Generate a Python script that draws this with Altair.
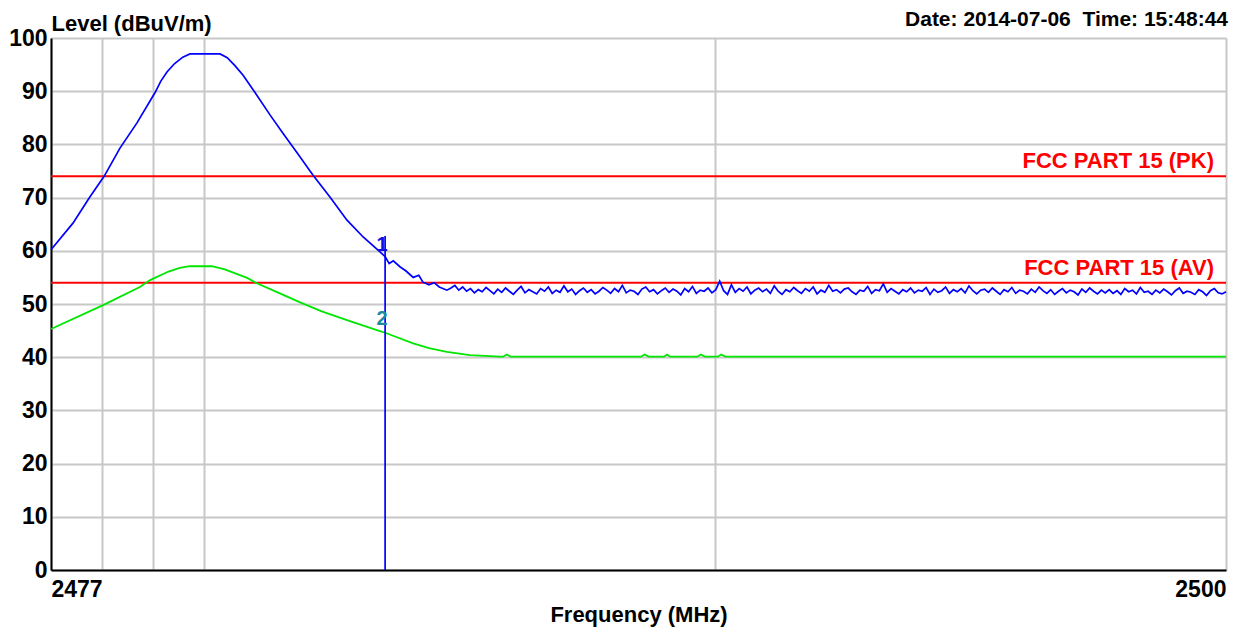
import altair as alt
import pandas as pd
import numpy as np

FONT = "Liberation Sans"

# ---- Peak trace (blue) ----
blue_freq = [2477.0, 2477.43, 2477.76, 2478.04, 2478.35, 2478.68, 2479.04, 2479.15, 2479.27,
             2479.42, 2479.58, 2479.72, 2480.31, 2480.45, 2480.60, 2480.76, 2480.99, 2481.29,
             2481.54, 2481.82, 2482.13, 2482.46, 2482.79, 2483.11, 2483.44, 2483.54, 2483.62,
             2483.70, 2483.83, 2483.95, 2484.09, 2484.20, 2484.28, 2484.40, 2484.50, 2484.60,
             2484.75]
blue_level = [60.2, 65.2, 70.1, 74.0, 79.3, 84.0, 89.8, 91.9, 93.6,
              95.2, 96.4, 97.0, 97.0, 96.3, 94.8, 93.0, 89.8, 85.5,
              82.1, 78.4, 74.2, 70.1, 65.8, 62.6, 59.8, 58.9, 57.6,
              58.1, 57.0, 56.2, 55.0, 55.4, 54.1, 53.6, 54.0, 53.2,
              52.6]

# noise floor of the peak trace, read from 2484.8 to 2500 MHz
noise_level = [
    53.0, 53.5, 52.6, 53.2, 52.4, 52.9, 52.1, 52.7, 52.3, 53.1,
    52.5, 51.9, 52.8, 52.2, 53.0, 52.4, 51.8, 52.6, 53.3, 52.1,
    52.7, 52.3, 51.9, 52.9, 52.4, 53.2, 52.0, 52.6, 52.2, 53.4,
    52.3, 52.8, 51.8, 52.5, 53.0, 52.2, 52.7, 51.9, 52.4, 53.1,
    52.6, 52.0, 52.9, 52.3, 53.5, 52.1, 52.6, 52.4, 51.8, 52.8,
    53.2, 52.3, 52.7, 51.9, 52.5, 53.0, 52.2, 52.8, 52.4, 51.7,
    52.9, 52.3, 53.3, 52.0, 52.6, 52.4, 53.0, 52.1, 52.7, 54.3,
    52.5, 51.8, 53.6, 52.2, 52.9, 52.4, 53.2, 51.9, 52.6, 53.0,
    52.3, 52.8, 52.0, 53.4, 52.4, 51.8, 52.7, 52.3, 53.1, 52.5,
    52.0, 52.9, 52.4, 53.2, 51.9, 52.6, 52.2, 53.5, 52.4, 52.7,
    52.1, 52.8, 53.0, 52.3, 51.8, 52.6, 52.4, 53.3, 52.0, 52.7,
    52.5, 53.8, 52.2, 52.9, 52.4, 51.9, 52.7, 52.3, 53.0, 52.1,
    52.6, 52.4, 53.1, 51.8, 52.8, 52.2, 52.5, 53.2, 52.0, 52.7,
    52.3, 52.9, 52.1, 53.4, 52.5, 51.9, 52.6, 52.8, 52.2, 53.0,
    52.4, 51.8, 52.7, 52.3, 53.1, 52.0, 52.6, 52.4, 51.9, 52.8,
    52.2, 53.2, 52.5, 52.0, 52.7, 51.8, 52.4, 52.9, 52.1, 52.6,
    52.3, 51.7, 52.8, 52.2, 53.0, 52.4, 51.9, 52.6, 52.1, 52.7,
    52.0, 52.5, 51.8, 52.9, 52.3, 52.6, 51.9, 53.1, 52.2, 52.4,
    51.8, 52.6, 52.1, 52.8, 52.3, 51.7, 52.5, 53.0, 52.0, 52.4,
    52.2, 51.8, 52.7, 52.3, 51.6, 52.5, 52.9, 52.1, 51.9, 52.3,
]
noise_freq = list(np.linspace(2484.83, 2500.0, len(noise_level)))

# ---- Average trace (green) ----
green_freq = [2477.0, 2478.02, 2478.74, 2478.94, 2479.30, 2479.52, 2479.72, 2480.15,
              2480.40, 2480.84, 2481.03, 2481.48, 2481.90, 2482.30, 2482.85, 2483.44,
              2483.54, 2484.09, 2484.40, 2484.75, 2485.20, 2485.79, 2485.85, 2485.92,
              2486.00, 2488.55, 2488.62, 2488.70, 2489.00, 2489.06, 2489.12, 2489.65,
              2489.72, 2489.80, 2490.05, 2490.12, 2490.20, 2500.0]
green_level = [45.3, 49.8, 53.2, 54.5, 56.1, 56.8, 57.1, 57.1,
               56.5, 54.9, 53.9, 52.0, 50.2, 48.6, 46.8, 44.9,
               44.6, 42.6, 41.7, 41.0, 40.4, 40.1, 40.1, 40.5,
               40.1, 40.1, 40.5, 40.1, 40.1, 40.5, 40.1, 40.1,
               40.5, 40.1, 40.1, 40.5, 40.1, 40.1]

# ---- Limits ----
limit_level = [74, 54]
limit_label = ["FCC PART 15 (PK)", "FCC PART 15 (AV)"]

# ---- Markers ----
marker_freq = 2483.54
marker_top = 62.8
marker_labels = ["1", "2"]
marker_levels = [61.0, 47.2]
marker_colors = ["#1010e0", "#1c8a9c"]

x_ticks = [2477, 2478, 2479, 2480, 2490, 2500]
y_ticks = list(range(0, 101, 10))

blue_df = pd.DataFrame({"freq": blue_freq + noise_freq, "level": blue_level + noise_level})
green_df = pd.DataFrame({"freq": green_freq, "level": green_level})
limit_df = pd.DataFrame({"level": limit_level, "label": limit_label, "freq": [2500, 2500]})
marker_df = pd.DataFrame({"freq": [marker_freq] * 2, "level": marker_levels,
                          "label": marker_labels, "color": marker_colors})
rule_df = pd.DataFrame({"freq": [marker_freq], "level": [0.0], "top": [marker_top]})

xscale = alt.Scale(domain=[2477, 2500], nice=False, zero=False)
yscale = alt.Scale(domain=[0, 100], nice=False, zero=True)

xaxis = alt.Axis(values=x_ticks, format="d", title="Frequency (MHz)",
                 labelExpr="(datum.value == 2477 || datum.value == 2500) ? datum.label : ''",
                 labelFlush=True, ticks=False, labelPadding=8, titlePadding=3,
                 labelFont=FONT, labelFontSize=23, labelFontWeight="bold", labelColor="black",
                 titleFont=FONT, titleFontSize=22, titleFontWeight="bold", titleColor="black",
                 grid=True, gridColor="#c8c8c8", gridWidth=2,
                 domainColor="black", domainWidth=2)
yaxis = alt.Axis(values=y_ticks, title="Level (dBuV/m)", ticks=False, labelPadding=4,
                 labelFont=FONT, labelFontSize=23, labelFontWeight="bold", labelColor="black",
                 titleFont=FONT, titleFontSize=22, titleFontWeight="bold", titleColor="black",
                 titleAngle=0, titleAlign="left", titleBaseline="alphabetic", titleX=0, titleY=-8,
                 grid=True, gridColor="#c8c8c8", gridWidth=2,
                 domainColor="black", domainWidth=2)

X = alt.X("freq:Q", scale=xscale, axis=xaxis)
Y = alt.Y("level:Q", scale=yscale, axis=yaxis)

blue = alt.Chart(blue_df).mark_line(color="#0000ff", strokeWidth=1.7).encode(x=X, y=Y)
green = alt.Chart(green_df).mark_line(color="#00e600", strokeWidth=1.8).encode(x=X, y=Y)
limits = alt.Chart(limit_df).mark_rule(color="#ff0000", strokeWidth=2).encode(y=Y)
limit_text = alt.Chart(limit_df).mark_text(
    align="right", baseline="alphabetic", dx=-12, dy=-8, color="#ff0000",
    font=FONT, fontSize=22, fontWeight="bold").encode(x=X, y=Y, text="label:N")
mrule = alt.Chart(rule_df).mark_rule(color="#0000ff", strokeWidth=1.7).encode(
    x=X, y=Y, y2="top:Q")
mtext = alt.Chart(marker_df).mark_text(
    align="center", baseline="middle", dx=-3, font=FONT, fontSize=20, fontWeight="bold").encode(
    x=X, y=Y, text="label:N", color=alt.Color("color:N", scale=None))
date_text = alt.Chart(limit_df.head(1)).mark_text(
    align="right", baseline="alphabetic", font=FONT, fontSize=21, fontWeight="bold",
    color="black").encode(x=alt.value(1177), y=alt.value(-12),
                          text=alt.value("Date: 2014-07-06\u00a0\u00a0Time: 15:48:44"))

chart = alt.layer(limits, green, blue, mrule, mtext, limit_text, date_text).properties(
    width=1175, height=532,
    padding={"left": 43, "top": 30, "right": 25, "bottom": 70},
    autosize=alt.AutoSizeParams(type="none"),
).configure_view(stroke="black", strokeWidth=2).configure(background="white")

chart.save("out.html", embed_options={"renderer": "svg", "actions": False})
